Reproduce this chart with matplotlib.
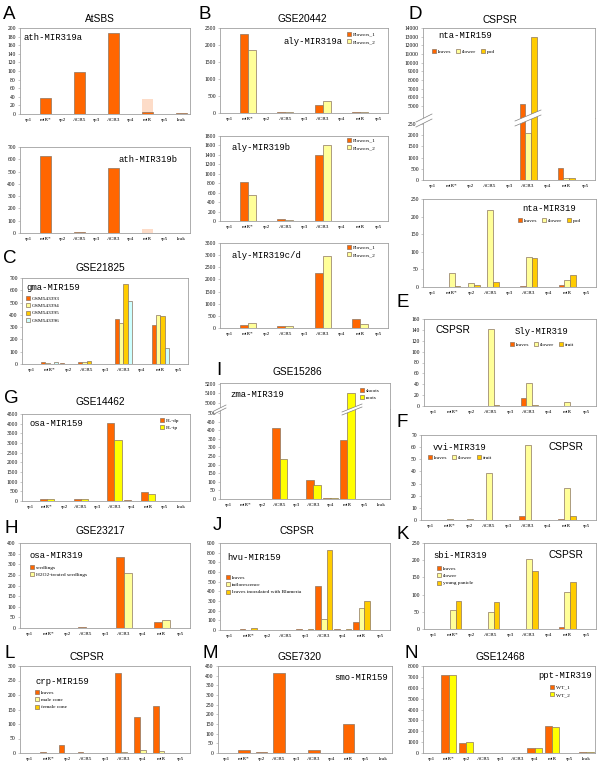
import numpy as np
import matplotlib
matplotlib.use("Agg")
import matplotlib.pyplot as plt
from matplotlib.patches import Polygon

# categories
cats9 = ['sp1', 'miR*', 'sp2', 'ACR5', 'sp3', 'ACR3', 'sp4', 'miR', 'sp5']
cats10 = cats9 + ['leak']

# A  AtSBS
a1_vals = [0, 37, 0, 97, 0, 188, 0, 5, 0, 3]
a1_faded = [0, 0, 0, 0, 0, 0, 0, 35, 0, 0]
a2_vals = [0, 625, 0, 12, 0, 530, 0, 3, 0, 3]
a2_faded = [0, 0, 0, 0, 0, 0, 0, 32, 0, 0]

# B  GSE20442
b_labels = ['Flowers_1', 'Flowers_2']
b1_f1 = [0, 2330, 10, 30, 0, 240, 0, 25, 0]
b1_f2 = [0, 1840, 0, 30, 0, 340, 0, 30, 0]
b2_f1 = [0, 820, 0, 45, 0, 1390, 0, 0, 0]
b2_f2 = [0, 560, 0, 30, 0, 1600, 0, 0, 0]
b3_f1 = [0, 140, 0, 100, 0, 2270, 0, 370, 0]
b3_f2 = [0, 210, 0, 80, 0, 2960, 0, 180, 0]

# C  GSE21825
c_labels = ['GSM543393', 'GSM543394', 'GSM543395', 'GSM543396']
c_s1 = [0, 18, 5, 18, 0, 370, 0, 320, 0]
c_s2 = [0, 12, 0, 18, 0, 335, 0, 400, 0]
c_s3 = [0, 4, 0, 25, 0, 655, 0, 390, 0]
c_s4 = [0, 18, 0, 0, 0, 510, 0, 130, 0]

# D  CSPSR nta
d_labels = ['leaves', 'flower', 'pod']
d1_leaves = [0, 10, 0, 10, 0, 5200, 0, 520, 0]
d1_flower = [0, 0, 0, 0, 0, 2100, 0, 100, 0]
d1_pod = [0, 0, 0, 0, 0, 12950, 0, 100, 0]
d2_leaves = [0, 0, 0, 0, 0, 2, 0, 5, 0]
d2_flower = [0, 40, 12, 220, 0, 85, 0, 20, 0]
d2_pod = [0, 2, 5, 13, 0, 83, 0, 33, 0]

# E  Sly
e_labels = ['leaves', 'flower', 'fruit']
e_leaves = [0, 0, 0, 0, 0, 14, 0, 0, 0]
e_flower = [0, 0, 0, 142, 0, 42, 0, 7, 0]
e_fruit = [0, 0, 0, 2, 0, 1, 0, 0, 0]

# F  vvi
f_leaves = [0, 0, 0, 0, 0, 3, 0, 1, 0]
f_flower = [0, 1, 1, 39, 0, 62, 0, 26, 0]
f_fruit = [0, 0, 0, 0, 0, 0, 0, 3, 0]

# G  GSE14462
g_labels = ['FL-dp', 'FL-tp']
g_dp = [0, 110, 10, 110, 0, 4060, 50, 470, 0, 0]
g_tp = [0, 110, 10, 110, 0, 3170, 20, 370, 0, 0]

# H  GSE23217
h_labels = ['seedlings', 'H2O2-treated seedlings']
h_s1 = [0, 2, 2, 7, 0, 335, 0, 30, 0]
h_s2 = [0, 0, 0, 2, 0, 258, 0, 40, 0]

# I  GSE15286
i_labels = ['shoots', 'roots']
i_shoots = [0, 0, 0, 415, 0, 112, 8, 345, 0, 0]
i_roots = [0, 0, 0, 230, 0, 80, 8, 5100, 0, 0]

# J  hvu
j_labels = ['leaves', 'inflorescence', 'leaves inoculated with Blumeria']
j_s1 = [0, 8, 0, 5, 10, 460, 8, 85, 0]
j_s2 = [0, 0, 0, 0, 0, 110, 0, 225, 0]
j_s3 = [0, 25, 0, 0, 15, 830, 15, 295, 0]

# K  sbi
k_labels = ['leaves', 'flower', 'young panicle']
k_s1 = [0, 0, 0, 1, 0, 1, 0, 5, 0]
k_s2 = [0, 55, 0, 48, 0, 203, 0, 108, 0]
k_s3 = [0, 82, 0, 78, 0, 168, 0, 137, 0]

# L  crp
l_labels = ['leaves', 'male cone', 'female cone']
l_s1 = [0, 2, 28, 5, 0, 277, 123, 162, 0]
l_s2 = [0, 0, 0, 0, 0, 2, 12, 8, 0]
l_s3 = [0, 0, 0, 0, 0, 0, 0, 0, 0]

# M  GSE7320
m_vals = [0, 15, 4, 415, 0, 15, 0, 150, 0, 0]

# N  GSE12468
n_labels = ['WT_1', 'WT_2']
n_s1 = [0, 7200, 950, 0, 20, 20, 430, 2500, 0, 100]
n_s2 = [0, 7130, 1000, 0, 20, 20, 470, 2420, 0, 100]

ORANGE = '#FF6600'
LYELLOW = '#FFFF99'
GOLD = '#FFCC00'
CYAN = '#CCFFFF'
YELLOW = '#FFFF00'
PEACH = '#FDDCC8'
EDGE = '#8C7560'
SPINE = '#A0A0A0'

W, H = 600, 771
fig = plt.figure(figsize=(W / 100, H / 100), dpi=100)


def fx(x):
    return x / W


def fy(y):
    return 1 - y / H


def add_ax(l, t, r, b):
    return fig.add_axes([fx(l), fy(b), (r - l) / W, (b - t) / H])


def bars(ax, cats, series, colors, width, labels=None):
    n = len(series)
    x = np.arange(len(cats))
    w = width / n
    for i, vals in enumerate(series):
        lab = labels[i] if labels else None
        ax.bar(x - width / 2 + w * (i + 0.5), vals, w, color=colors[i],
               edgecolor=EDGE, linewidth=0.5, label=lab, zorder=2)
    ax.set_xlim(-0.5, len(cats) - 0.5)


def style(ax, cats, ylim, step, ticks=None, xlabels=True):
    if ticks is None:
        ticks = np.arange(0, ylim[1] + 0.1, step)
    ax.set_yticks(ticks)
    ax.set_ylim(*ylim)
    ax.set_xticks(np.arange(len(cats)))
    if xlabels:
        ax.set_xticklabels(cats)
    else:
        ax.set_xticklabels([])
    for lab in ax.get_xticklabels() + ax.get_yticklabels():
        lab.set_family('Liberation Serif')
    ax.tick_params(axis='x', length=0, labelsize=3.8, pad=3)
    ax.tick_params(axis='y', length=1.5, width=0.4, labelsize=4, pad=1.5,
                   color=SPINE)
    for s in ax.spines.values():
        s.set_color(SPINE)
        s.set_linewidth(0.6)


def legend(ax, x, y, ncol=1):
    ax.legend(loc='upper left', bbox_to_anchor=(fx(x), fy(y)),
              bbox_transform=fig.transFigure, ncol=ncol, frameon=False,
              prop={'family': 'Liberation Serif', 'size': 3.9},
              handlelength=0.75, handleheight=0.75, handletextpad=0.35,
              labelspacing=0.45, columnspacing=0.9, borderpad=0,
              borderaxespad=0)


def gene(x, y, s, ha='left'):
    fig.text(fx(x), fy(y), s, family='Liberation Mono', fontsize=6.4,
             ha=ha, va='center')


def title(x, y, s):
    fig.text(fx(x), fy(y), s, family='Liberation Sans', fontsize=7.3,
             ha='center', va='center')


def letter(x, y, s):
    fig.text(fx(x), fy(y), s, family='Liberation Sans', fontsize=13.5,
             ha='left', va='top')


def brk(pts):
    # white slanted band marking an axis break
    p = Polygon([(fx(a), fy(b)) for a, b in pts], closed=True,
                transform=fig.transFigure, facecolor='white',
                edgecolor='none', zorder=10)
    fig.add_artist(p)
    for (a1, b1), (a2, b2) in [(pts[0], pts[1]), (pts[3], pts[2])]:
        fig.add_artist(plt.Line2D([fx(a1), fx(a2)], [fy(b1), fy(b2)],
                                  transform=fig.transFigure, color='#808080',
                                  lw=0.5, zorder=11))


# ---------- column 1 ----------
ax = add_ax(20, 28, 190, 114)
ax.bar(np.arange(10), a1_faded, 0.68, color=PEACH, edgecolor='none', zorder=1)
bars(ax, cats10, [a1_vals], [ORANGE], 0.68)
style(ax, cats10, (0, 200), 20)
letter(3, 6, 'A')
title(100, 19, 'AtSBS')
gene(24, 38, 'ath-MIR319a')

ax = add_ax(20, 147, 190, 233)
ax.bar(np.arange(10), a2_faded, 0.68, color=PEACH, edgecolor='none', zorder=1)
bars(ax, cats10, [a2_vals], [ORANGE], 0.68)
style(ax, cats10, (0, 700), 100)
gene(178, 159, 'ath-MIR319b', ha='right')

ax = add_ax(22, 278, 188, 364)
bars(ax, cats9, [c_s1, c_s2, c_s3, c_s4], [ORANGE, LYELLOW, GOLD, CYAN],
     0.93, c_labels)
style(ax, cats9, (0, 700), 100)
legend(ax, 26, 296)
letter(3, 250, 'C')
title(100, 268, 'GSE21825')
gene(26, 287, 'gma-MIR159')

ax = add_ax(22, 414, 190, 501)
bars(ax, cats10, [g_dp, g_tp], [ORANGE, YELLOW], 0.85, g_labels)
style(ax, cats10, (0, 4500), 500)
legend(ax, 160, 418)
letter(4, 390, 'G')
title(100, 402, 'GSE14462')
gene(30, 423, 'osa-MIR159')

ax = add_ax(20, 543, 190, 628)
bars(ax, cats9, [h_s1, h_s2], [ORANGE, LYELLOW], 0.85, h_labels)
style(ax, cats9, (0, 400), 50)
legend(ax, 30, 565)
letter(4, 520, 'H')
title(100, 531, 'GSE23217')
gene(30, 555, 'osa-MIR319')

ax = add_ax(20, 666, 190, 753)
bars(ax, cats9, [l_s1, l_s2, l_s3], [ORANGE, LYELLOW, GOLD], 0.9, l_labels)
style(ax, cats9, (0, 300), 50)
legend(ax, 35, 690)
letter(4, 645, 'L')
title(87, 657, 'CSPSR')
gene(35, 682, 'crp-MIR159')

# ---------- column 2 ----------
ax = add_ax(220, 28, 388, 113)
bars(ax, cats9, [b1_f1, b1_f2], [ORANGE, LYELLOW], 0.85, b_labels)
style(ax, cats9, (0, 2500), 500)
legend(ax, 347, 32)
letter(198, 6, 'B')
title(302, 19, 'GSE20442')
gene(283, 42, 'aly-MIR319a')

ax = add_ax(220, 136, 388, 221)
bars(ax, cats9, [b2_f1, b2_f2], [ORANGE, LYELLOW], 0.85, b_labels)
style(ax, cats9, (0, 1800), 200)
legend(ax, 347, 138)
gene(232, 148, 'aly-MIR319b')

ax = add_ax(220, 243, 388, 328)
bars(ax, cats9, [b3_f1, b3_f2], [ORANGE, LYELLOW], 0.85, b_labels)
style(ax, cats9, (0, 3500), 500)
legend(ax, 347, 245)
gene(232, 255, 'aly-MIR319c/d')

# I with broken axis
ax_up = add_ax(220, 383, 390, 409)
bars(ax_up, cats10, [i_shoots, i_roots], [ORANGE, YELLOW], 0.85)
style(ax_up, cats10, (4935, 5211), 100, ticks=[5000, 5100, 5200],
      xlabels=False)
ax_up.spines['bottom'].set_visible(False)
ax = add_ax(220, 409, 390, 499)
bars(ax, cats10, [i_shoots, i_roots], [ORANGE, YELLOW], 0.85, i_labels)
style(ax, cats10, (0, 523), 50, ticks=np.arange(0, 501, 50))
ax.spines['top'].set_visible(False)
legend(ax, 360, 388)
brk([(214, 411), (226, 405), (226, 408), (214, 414)])
brk([(342, 412), (362, 404), (362, 407), (342, 415)])
letter(216, 362, 'I')
title(297, 372, 'GSE15286')
gene(230, 395, 'zma-MIR319')

ax = add_ax(220, 543, 390, 630)
bars(ax, cats9, [j_s1, j_s2, j_s3], [ORANGE, LYELLOW, GOLD], 0.9, j_labels)
style(ax, cats9, (0, 900), 100)
legend(ax, 226, 575)
letter(213, 517, 'J')
title(297, 531, 'CSPSR')
gene(227, 557, 'hvu-MIR159')

ax = add_ax(218, 666, 392, 753)
bars(ax, cats10, [m_vals], [ORANGE], 0.68)
style(ax, cats10, (0, 450), 50)
letter(203, 645, 'M')
title(300, 657, 'GSE7320')
gene(388, 677, 'smo-MIR159', ha='right')

# ---------- column 3 ----------
# D1 with broken axis
ax_up = add_ax(423, 28, 595, 118)
bars(ax_up, cats9, [d1_leaves, d1_flower, d1_pod], [ORANGE, LYELLOW, GOLD], 0.9)
style(ax_up, cats9, (3620, 14000), 1000, ticks=np.arange(5000, 14001, 1000),
      xlabels=False)
ax_up.spines['bottom'].set_visible(False)
ax = add_ax(423, 118, 595, 180)
bars(ax, cats9, [d1_leaves, d1_flower, d1_pod], [ORANGE, LYELLOW, GOLD], 0.9,
     d_labels)
style(ax, cats9, (0, 2768), 500, ticks=np.arange(0, 2501, 500))
ax.spines['top'].set_visible(False)
legend(ax, 432, 49, ncol=3)
brk([(416, 122), (432, 114), (432, 119), (416, 127)])
brk([(515, 121), (541, 110), (541, 115), (515, 126)])
letter(408, 6, 'D')
title(500, 20, 'CSPSR')
gene(438, 36, 'nta-MIR159')

ax = add_ax(423, 199, 596, 287)
bars(ax, cats9, [d2_leaves, d2_flower, d2_pod], [ORANGE, LYELLOW, GOLD], 0.9,
     d_labels)
style(ax, cats9, (0, 250), 50)
legend(ax, 518, 218, ncol=3)
gene(576, 209, 'nta-MIR319', ha='right')

ax = add_ax(424, 319, 596, 406)
bars(ax, cats9, [e_leaves, e_flower, e_fruit], [ORANGE, LYELLOW, GOLD], 0.9,
     e_labels)
style(ax, cats9, (0, 160), 20)
legend(ax, 510, 342, ncol=3)
letter(396, 294, 'E')
fig.text(fx(435), fy(330), 'CSPSR', family='Liberation Sans', fontsize=7.3,
         va='center')
gene(515, 331, 'Sly-MIR319')

ax = add_ax(421, 435, 596, 520)
bars(ax, cats9, [f_leaves, f_flower, f_fruit], [ORANGE, LYELLOW, GOLD], 0.9,
     e_labels)
style(ax, cats9, (0, 70), 10)
legend(ax, 428, 455, ncol=3)
letter(396, 414, 'F')
fig.text(fx(583), fy(447), 'CSPSR', family='Liberation Sans', fontsize=7.3,
         va='center', ha='right')
gene(433, 447, 'vvi-MIR319')

ax = add_ax(424, 543, 596, 629)
bars(ax, cats9, [k_s1, k_s2, k_s3], [ORANGE, LYELLOW, GOLD], 0.9, k_labels)
style(ax, cats9, (0, 250), 50)
legend(ax, 437, 566)
letter(396, 526, 'K')
fig.text(fx(583), fy(555), 'CSPSR', family='Liberation Sans', fontsize=7.3,
         va='center', ha='right')
gene(433, 556, 'sbi-MIR319')

ax = add_ax(423, 666, 595, 753)
bars(ax, cats10, [n_s1, n_s2], [ORANGE, YELLOW], 0.85, n_labels)
style(ax, cats10, (0, 8000), 1000)
legend(ax, 550, 685)
letter(404, 645, 'N')
title(500, 657, 'GSE12468')
gene(592, 675, 'ppt-MIR319', ha='right')

fig.savefig('out.png', dpi=100)
